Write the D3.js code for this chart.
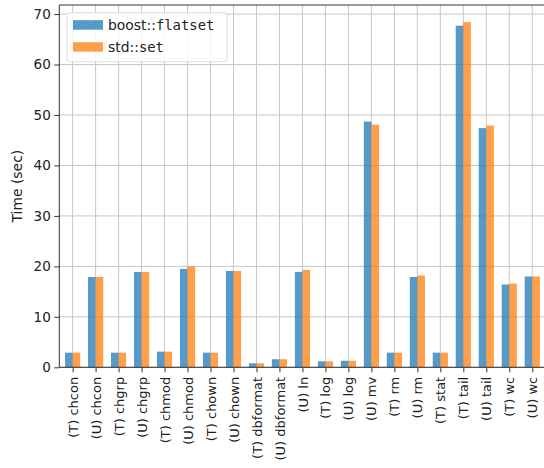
<!DOCTYPE html>
<html>
<head>
<meta charset="utf-8">
<script src="https://cdn.jsdelivr.net/npm/d3@7"></script>
<style>
  html, body { margin: 0; padding: 0; background: #fff; }
  svg { display: block; font-family: "DejaVu Sans", sans-serif; }
</style>
</head>
<body>
<svg id="chart" width="544" height="468"></svg>
<script>
// Benchmark commands, (T) and (U) variants
const categories = [
  "(T) chcon", "(U) chcon", "(T) chgrp", "(U) chgrp", "(T) chmod", "(U) chmod",
  "(T) chown", "(U) chown", "(T) dbformat", "(U) dbformat", "(U) ln", "(T) log",
  "(U) log", "(U) mv", "(T) rm", "(U) rm", "(T) stat", "(T) tail", "(U) tail",
  "(T) wc", "(U) wc"
];
// Run times in seconds
const flatsetTimes = [2.9, 17.9, 2.9, 18.9, 3.1, 19.5, 2.9, 19.1, 0.8, 1.6, 18.9, 1.2,
                      1.3, 48.7, 2.9, 17.9, 2.9, 67.7, 47.4, 16.4, 18.0];
const stdsetTimes  = [2.9, 17.9, 2.9, 18.9, 3.1, 20.0, 2.9, 19.1, 0.8, 1.6, 19.3, 1.2,
                      1.3, 48.1, 2.9, 18.2, 2.9, 68.4, 47.9, 16.6, 18.0];
const yTicks = [0, 10, 20, 30, 40, 50, 60, 70];

const series = [
  { name: "boost::flatset", prefix: "boost", mono: "flatset", values: flatsetTimes, color: "#1f77b4", offset: -1 },
  { name: "std::set", prefix: "std", mono: "set", values: stdsetTimes, color: "#ff7f0e", offset: 0 }
];

const svg = d3.select("#chart");
const plotLeft = 59.3, plotRight = 545.6, plotTop = 5, plotBottom = 367.3;
const fontSize = 13;

const x = d3.scaleLinear().domain([-0.58, categories.length - 1 + 0.58]).range([plotLeft, plotRight]);
const y = d3.scaleLinear().domain([0, 71.8]).range([plotBottom, plotTop]);
const barW = 0.33;

// grid
const grid = svg.append("g").attr("stroke", "#b0b0b0").attr("stroke-width", 1).attr("opacity", 0.7);
grid.selectAll("line.v").data(categories.map((d, i) => i)).join("line").attr("class", "v")
  .attr("x1", d => x(d)).attr("x2", d => x(d)).attr("y1", plotTop).attr("y2", plotBottom);
grid.selectAll("line.h").data(yTicks).join("line").attr("class", "h")
  .attr("x1", plotLeft).attr("x2", plotRight).attr("y1", d => y(d)).attr("y2", d => y(d));

// bars
series.forEach(s => {
  svg.append("g").selectAll("rect").data(s.values).join("rect")
    .attr("x", (d, i) => x(i + s.offset * barW))
    .attr("width", x(barW) - x(0))
    .attr("y", d => y(d))
    .attr("height", d => y(0) - y(d))
    .attr("fill", s.color)
    .attr("fill-opacity", 0.75);
});

// axes
const xAxis = d3.axisBottom(x)
  .tickValues(categories.map((d, i) => i))
  .tickFormat(i => categories[i])
  .tickSize(5);
const gx = svg.append("g").attr("transform", `translate(0,${plotBottom})`).call(xAxis);
gx.select(".domain").remove();
gx.selectAll(".tick line").attr("stroke", "#333");
gx.selectAll(".tick text")
  .attr("transform", "rotate(-90)")
  .attr("text-anchor", "end")
  .attr("x", -9.5).attr("y", 0).attr("dy", "0.35em")
  .attr("font-size", fontSize).attr("font-family", "DejaVu Sans, sans-serif").attr("fill", "#222");

const yAxis = d3.axisLeft(y).tickValues(yTicks).tickSize(5).tickPadding(3.5);
const gy = svg.append("g").attr("transform", `translate(${plotLeft},0)`).call(yAxis);
gy.select(".domain").remove();
gy.selectAll(".tick line").attr("stroke", "#333");
gy.selectAll(".tick text").attr("font-size", 13.5).attr("font-family", "DejaVu Sans, sans-serif").attr("fill", "#222");

// spines
const sp = svg.append("g").attr("stroke", "#333").attr("stroke-width", 1).attr("fill", "none");
sp.append("line").attr("x1", plotLeft).attr("x2", plotLeft).attr("y1", plotTop).attr("y2", plotBottom);
sp.append("line").attr("x1", plotLeft).attr("x2", plotRight).attr("y1", plotBottom).attr("y2", plotBottom);
sp.append("line").attr("x1", plotLeft).attr("x2", plotRight).attr("y1", plotTop).attr("y2", plotTop);

// y label
svg.append("text")
  .attr("transform", `translate(22,${(plotTop + plotBottom) / 2}) rotate(-90)`)
  .attr("text-anchor", "middle")
  .attr("font-size", 13.9).attr("fill", "#222")
  .text("Time (sec)");

// legend
const lg = svg.append("g").attr("transform", "translate(67,12.7)");
lg.append("rect").attr("width", 160).attr("height", 49).attr("rx", 3)
  .attr("fill", "#fff").attr("fill-opacity", 0.8).attr("stroke", "#ddd");
series.forEach((s, i) => {
  const row = lg.append("g").attr("transform", `translate(6,${7.5 + i * 22})`);
  row.append("rect").attr("width", 30).attr("height", 9.5)
    .attr("fill", s.color).attr("fill-opacity", 0.75);
  const t = row.append("text").attr("x", 35).attr("y", 10).attr("font-size", 13.9).attr("fill", "#222");
  t.append("tspan").text(s.prefix);
  t.append("tspan").text("::");
  t.append("tspan").attr("font-family", "DejaVu Sans Mono, monospace").text(s.mono);
});
</script>
</body>
</html>
